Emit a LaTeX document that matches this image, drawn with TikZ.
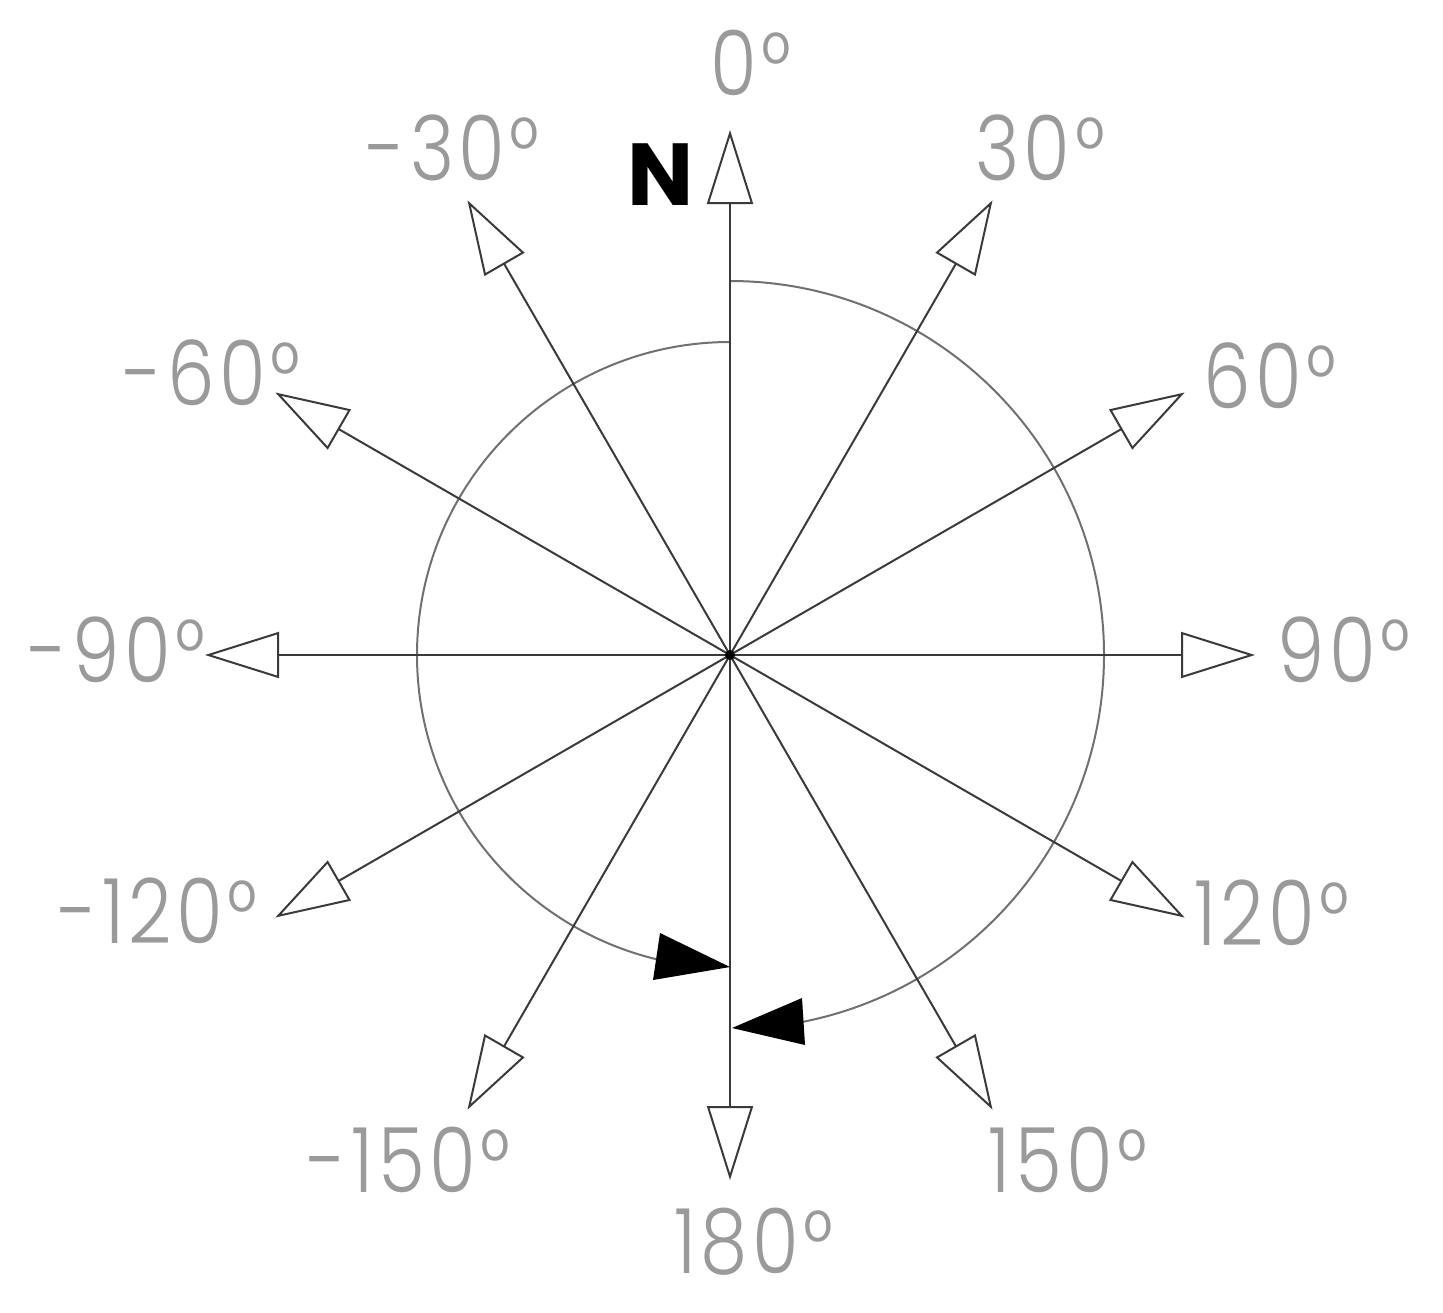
\documentclass[tikz,border=0pt]{standalone}
\usepackage{fontspec}
\setmainfont{Poppins}
\newfontfamily\lblfont{Poppins Light}[FakeStretch=0.84, LetterSpace=5]
\usetikzlibrary{arrows.meta,calc}
\definecolor{lblgray}{HTML}{9A9A9A}
\definecolor{linegray}{HTML}{3A3A3A}
\definecolor{arcgray}{HTML}{707070}
\tikzset{
  ray/.style={draw=linegray, line width=1pt, -{Triangle[open, length=37pt, width=23pt, fill=white]}},
  deg/.style={anchor=base, inner sep=0pt, text=lblgray, font=\lblfont\fontsize{45}{45}\selectfont},
  arcline/.style={draw=arcgray, line width=1pt},
  blacktip/.style={fill=black},
}
\begin{document}
\begin{tikzpicture}[x=0.5pt, y=-0.5pt]
\useasboundingbox (0,0) rectangle (1443,1312);
\coordinate (O) at (730,655);
% ray tips
\foreach \a/\n in {0/t0,30/t30,60/t60,90/t90,120/t120,150/t150,180/t180,210/tm150,240/tm120,270/tm90,300/tm60,330/tm30}{
  \coordinate (\n) at ($(O)+({525*sin(\a)},{-525*cos(\a)})$);
}
% arcs (y axis points down: angle -90 is up)
\coordinate (ra0) at (730,281);
\coordinate (la0) at (730,342);
\draw[arcline] (ra0) arc[start angle=-90, end angle=78.7, radius=374] coordinate (rab);
\draw[arcline] (la0) arc[start angle=-90, end angle=-256.4, radius=313] coordinate (lab);
% rays
\foreach \n in {t0,t30,t60,t90,t120,t150,t180,tm150,tm120,tm90,tm60,tm30}{
  \draw[ray] (O) -- (\n);
}
\fill (O) circle[radius=5];
% black arrowheads
\coordinate (rtip) at (732,1028);
\coordinate (ltip) at (730,967);
\fill[blacktip] (rtip) -- (802,998) -- (805,1045) -- cycle;
\fill[blacktip] (ltip) -- (660,933) -- (653,980) -- cycle;
% labels
\node[deg] (l0) at (751,95) {0°};
\node[deg] (l30) at (1040,180) {30°};
\node[deg] (l60) at (1270,408) {60°};
\node[deg] (l90) at (1344,682) {90°};
\node[deg] (l120) at (1272,945) {120°};
\node[deg] (l150) at (1068,1192) {150°};
\node[deg] (l180) at (754,1273) {180°};
\node[deg] (lm150) at (409,1192) {-150°};
\node[deg] (lm120) at (158,943) {-120°};
\node[deg] (lm90) at (117,682) {-90°};
\node[deg] (lm60) at (212,405) {-60°};
\node[deg] (lm30) at (453,180) {-30°};
\node[anchor=base, inner sep=0pt, font=\bfseries\fontsize{44}{44}\selectfont] (N) at (661,205) {N};
\end{tikzpicture}
\end{document}
